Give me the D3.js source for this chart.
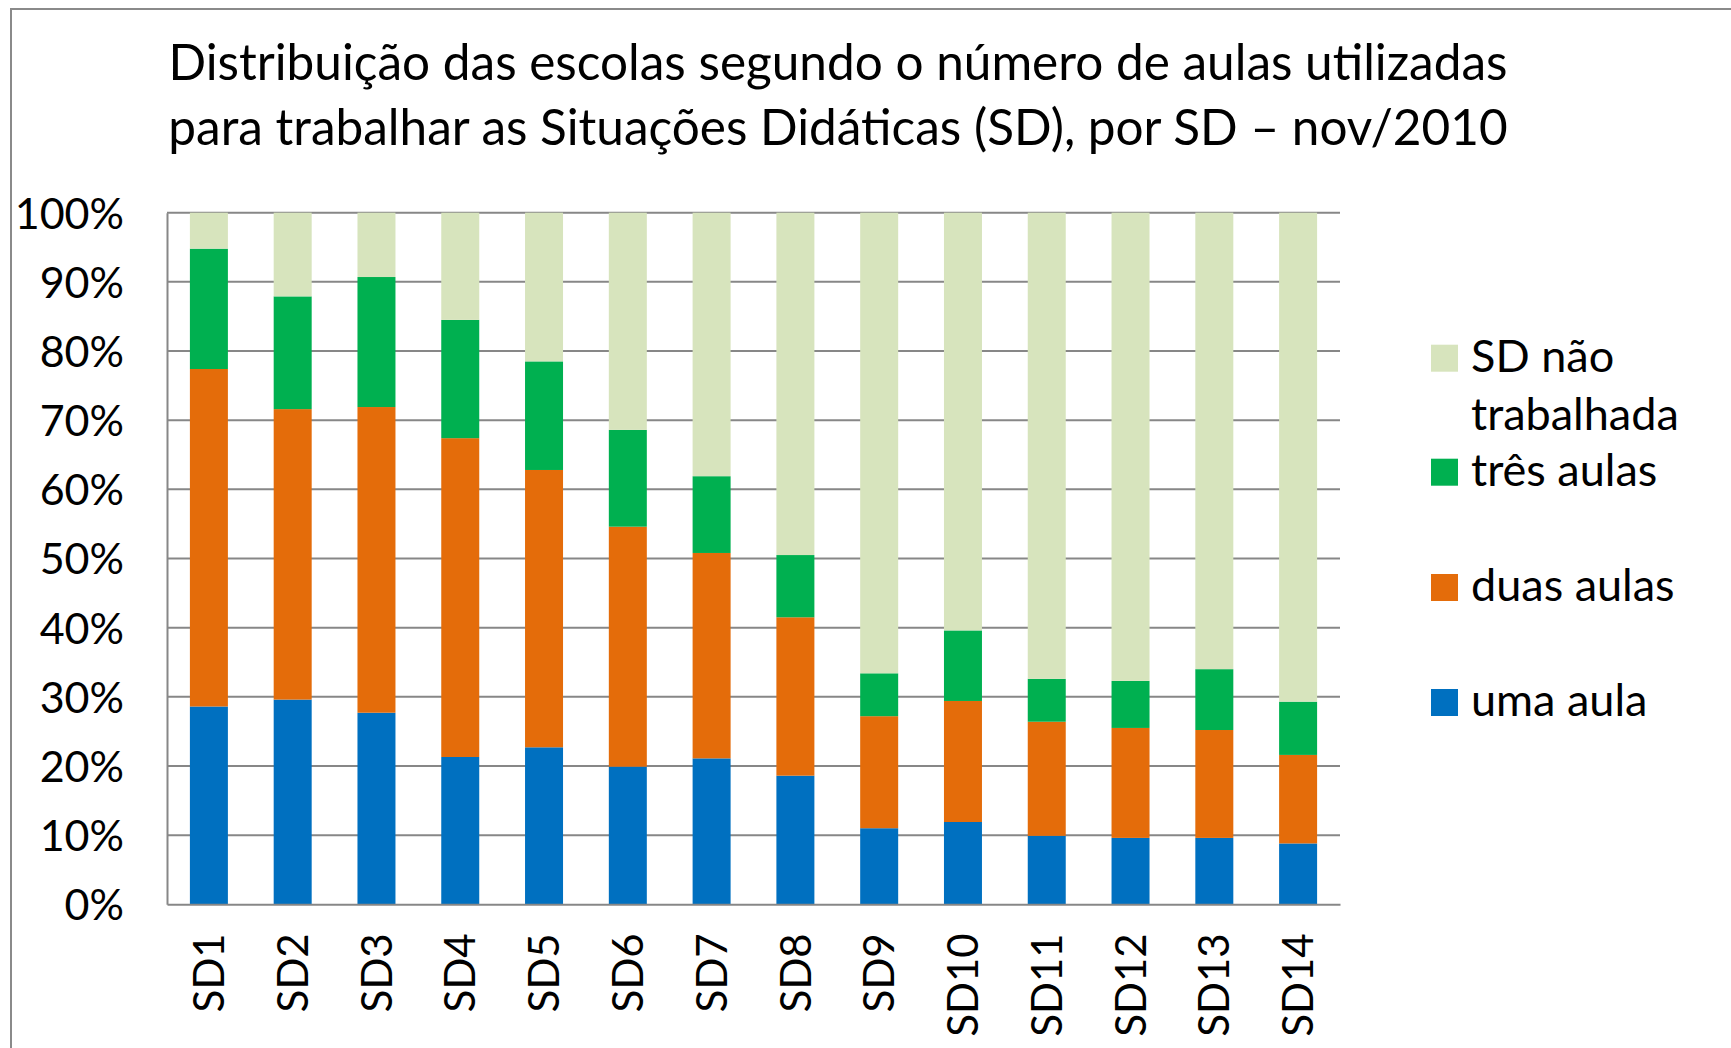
<!DOCTYPE html>
<html>
<head>
<meta charset="utf-8">
<script src="https://cdn.jsdelivr.net/npm/d3@7"></script>
<style>
  html, body { margin: 0; padding: 0; background: #ffffff; }
  svg { display: block; }
  text { font-family: Lato, "Open Sans", sans-serif; fill: #000; }
</style>
</head>
<body>
<svg id="chart" width="1731" height="1048"></svg>
<script>
// ---- data (percent of schools) ----
const categories = ["SD1","SD2","SD3","SD4","SD5","SD6","SD7","SD8","SD9","SD10","SD11","SD12","SD13","SD14"];
const umaAula   = [28.6, 29.6, 27.7, 21.3, 22.7, 19.9, 21.1, 18.6, 11.0, 11.9,  9.9,  9.6,  9.6,  8.8];
const duasAulas = [48.8, 42.0, 44.2, 46.1, 40.1, 34.7, 29.7, 22.9, 16.2, 17.5, 16.5, 15.9, 15.6, 12.8];
const tresAulas = [17.4, 16.3, 18.8, 17.1, 15.7, 14.0, 11.1,  9.0,  6.2, 10.2,  6.2,  6.8,  8.8,  7.7];
const naoTrab   = [ 5.2, 12.1,  9.3, 15.5, 21.5, 31.4, 38.1, 49.5, 66.6, 60.4, 67.4, 67.7, 66.0, 70.7];
const seriesKeys   = ["uma aula", "duas aulas", "três aulas", "SD não trabalhada"];
const yTickValues  = [0, 10, 20, 30, 40, 50, 60, 70, 80, 90, 100];
const yTickLabels  = ["0%","10%","20%","30%","40%","50%","60%","70%","80%","90%","100%"];
const titleLines   = ["Distribuição das escolas segundo o número de aulas utilizadas",
                      "para trabalhar as Situações Didáticas (SD), por SD – nov/2010"];
const legendLabels = [["SD não", "trabalhada"], ["três aulas"], ["duas aulas"], ["uma aula"]];

// ---- build table ----
const seriesArrays = [umaAula, duasAulas, tresAulas, naoTrab];
const table = categories.map((c, i) => {
  const row = { cat: c };
  seriesKeys.forEach((k, j) => row[k] = seriesArrays[j][i]);
  return row;
});

const colors = d3.scaleOrdinal().domain(seriesKeys)
  .range(["#0070C0", "#E46C0A", "#00B050", "#D7E4BD"]);

const svg = d3.select("#chart");
const gridColor = "#878787";

// outer frame
svg.append("rect").attr("x", 11).attr("y", 9).attr("width", 1800).attr("height", 1100)
  .attr("fill", "#fff").attr("stroke", "#8a8a8a").attr("stroke-width", 2);

const plot = { left: 167, right: 1340, top: 212.7, bottom: 904.3 };

const x = d3.scaleBand().domain(categories).range([plot.left, plot.right])
  .paddingInner(0.5465).paddingOuter(0.2733);
const y = d3.scaleLinear().domain([0, 100]).range([plot.bottom, plot.top]);

// title
const title = svg.append("text").attr("text-anchor", "middle").style("font-size", "49.5px");
titleLines.forEach((t, i) => {
  title.append("tspan").attr("x", 838).attr("y", 80 + i * 65).text(t);
});

// gridlines
svg.append("g").selectAll("line").data(yTickValues.filter(v => v > 0)).join("line")
  .attr("x1", plot.left).attr("x2", plot.right)
  .attr("y1", d => y(d)).attr("y2", d => y(d))
  .attr("stroke", gridColor).attr("stroke-width", 2);

// bars
const stacked = d3.stack().keys(seriesKeys)(table);
svg.append("g").selectAll("g").data(stacked).join("g")
  .attr("fill", d => colors(d.key))
  .selectAll("rect").data(d => d).join("rect")
  .attr("x", d => x(d.data.cat))
  .attr("width", x.bandwidth())
  .attr("y", d => y(d[1]))
  .attr("height", d => y(d[0]) - y(d[1]));

// y axis
const yAxis = svg.append("g").attr("transform", `translate(${plot.left},0)`)
  .call(d3.axisLeft(y).tickValues(yTickValues)
    .tickFormat((d, i) => yTickLabels[i]).tickSize(0).tickPadding(43));
yAxis.select(".domain").attr("stroke", gridColor).attr("stroke-width", 2);
yAxis.selectAll("text").style("font-size", "43px").style("font-family", "Lato, sans-serif")
  .attr("fill", "#000").attr("dy", "0.36em");

// x axis
const xAxis = svg.append("g").attr("transform", `translate(0,${plot.bottom})`)
  .call(d3.axisBottom(x).tickSize(0));
xAxis.select(".domain").attr("stroke", gridColor).attr("stroke-width", 2);
xAxis.selectAll("text")
  .style("font-size", "42px").style("font-family", "Lato, sans-serif").attr("fill", "#000")
  .attr("transform", "rotate(-90)")
  .attr("text-anchor", "end")
  .attr("x", -29).attr("y", 0).attr("dy", "0.36em");

// legend
const legendYs = [371.7, 485.7, 601, 716];
const legend = svg.append("g");
const legendKeys = seriesKeys.slice().reverse();
legendKeys.forEach((k, i) => {
  const g = legend.append("g");
  g.append("rect").attr("x", 1431).attr("y", legendYs[i] - 27)
    .attr("width", 27).attr("height", 27).attr("fill", colors(k));
  const t = g.append("text").style("font-size", "45px");
  legendLabels[i].forEach((line, j) => {
    t.append("tspan").attr("x", 1471).attr("y", legendYs[i] + j * 58.3).text(line);
  });
});
</script>
</body>
</html>
